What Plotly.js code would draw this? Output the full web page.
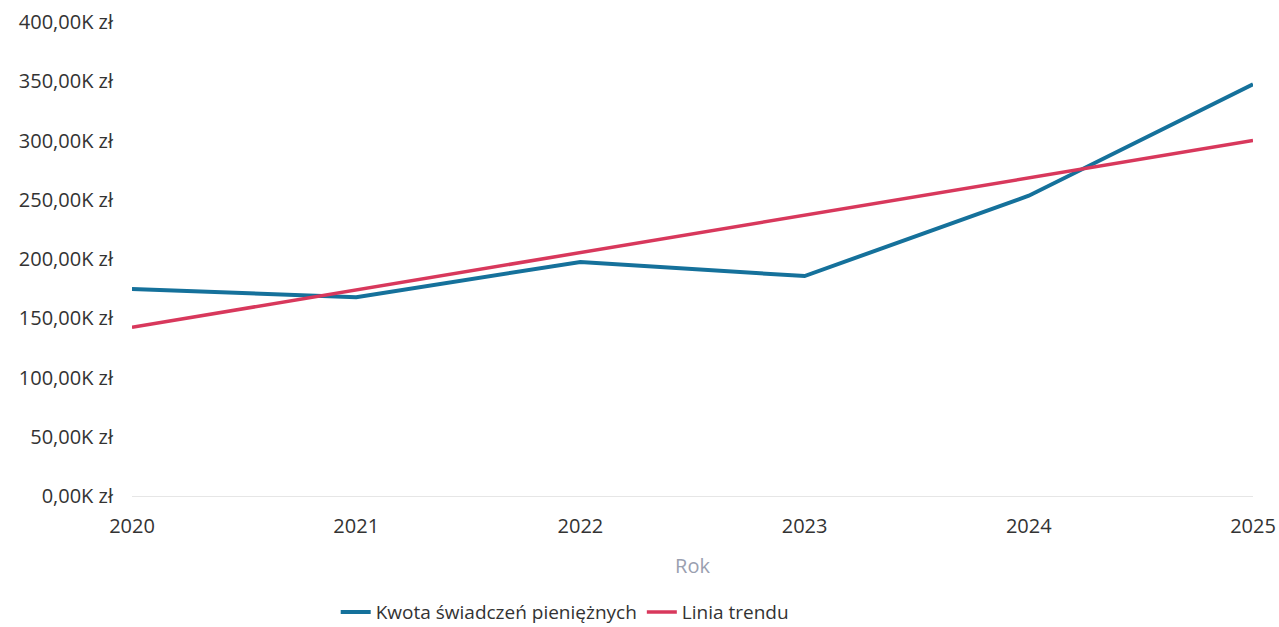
<!DOCTYPE html>
<html>
<head>
<meta charset="utf-8">
<script src="https://cdn.plot.ly/plotly-3.0.1.min.js"></script>
<style>html,body{margin:0;padding:0;background:#fff;}#chart{width:1279px;height:627px;}</style>
</head>
<body>
<div id="chart"></div>
<script>
const years = [2020, 2021, 2022, 2023, 2024, 2025];
const kwota = [174600, 167800, 197500, 185600, 253400, 347500];
const trend = [142400, 174000, 205500, 237000, 268500, 300000];
const yTickVals = [0, 50000, 100000, 150000, 200000, 250000, 300000, 350000, 400000];
const yTickText = ["0,00K zł", "50,00K zł", "100,00K zł", "150,00K zł", "200,00K zł", "250,00K zł", "300,00K zł", "350,00K zł", "400,00K zł"];
const xTickVals = years;
const xTickText = ["2020", "2021", "2022", "2023", "2024", "2025"];

const traces = [
  {x: years, y: kwota, type: 'scatter', mode: 'lines', name: 'Kwota świadczeń pieniężnych',
   line: {color: '#15719b', width: 4}},
  {x: years, y: trend, type: 'scatter', mode: 'lines', name: 'Linia trendu',
   line: {color: '#d8385c', width: 3.5}}
];
const layout = {
  width: 1279, height: 627,
  margin: {l: 132, r: 26, t: 22, b: 131, autoexpand: false},
  paper_bgcolor: '#fff', plot_bgcolor: '#fff',
  font: {family: '"Open Sans", sans-serif', color: '#333', size: 20},
  showlegend: true,
  legend: {orientation: 'h', x: 0.386, xanchor: 'center', y: -0.245, yanchor: 'middle',
           font: {size: 19, color: '#333'}, itemwidth: 30, tracegroupgap: 0},
  xaxis: {range: [2020, 2025], tickvals: xTickVals, ticktext: xTickText, showgrid: false,
          zeroline: false, showline: false, ticks: '', ticklabelstandoff: 16,
          tickfont: {size: 20, color: '#333'},
          title: {text: 'Rok', font: {size: 20, color: '#9aa0b0'}, standoff: 20}},
  yaxis: {range: [0, 400000], tickvals: yTickVals, ticktext: yTickText, showgrid: false,
          zeroline: true, zerolinecolor: '#e6e6e6', zerolinewidth: 1, showline: false,
          ticks: '', ticklabelstandoff: 18, tickfont: {size: 20, color: '#333'}}
};
Plotly.newPlot('chart', traces, layout, {displayModeBar: false, staticPlot: true});
</script>
</body>
</html>
